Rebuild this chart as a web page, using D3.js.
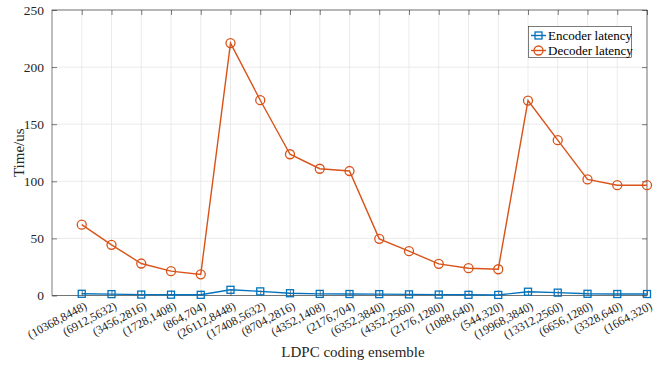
<!DOCTYPE html>
<html>
<head>
<meta charset="utf-8">
<script src="https://cdn.jsdelivr.net/npm/d3@7"></script>
<style>
  body { margin: 0; background: #fff; }
  svg { display: block; }
  svg text { font-family: "Liberation Serif", "Times New Roman", serif !important; }
</style>
</head>
<body>
<svg id="chart" width="668" height="366"></svg>
<script>
// LDPC coding ensembles (n, m)
const categories = [
  "(10368,8448)", "(6912,5632)", "(3456,2816)", "(1728,1408)", "(864,704)",
  "(26112,8448)", "(17408,5632)", "(8704,2816)", "(4352,1408)", "(2176,704)",
  "(6352,3840)", "(4352,2560)", "(2176,1280)", "(1088,640)", "(544,320)",
  "(19968,3840)", "(13312,2560)", "(6656,1280)", "(3328,640)", "(1664,320)"
];
// Latency in microseconds
const encoderLatency = [1.5, 1.2, 0.8, 0.7, 0.6, 5.0, 3.6, 2.0, 1.4, 1.3,
                        1.2, 1.0, 0.8, 0.6, 0.5, 3.3, 2.5, 1.5, 1.3, 1.3];
const decoderLatency = [62, 44.4, 28, 21.3, 18.5, 221, 171, 123.7, 111, 109,
                        49.6, 38.8, 27.7, 23.9, 23, 170.7, 136, 101.6, 96.6, 96.6];
const yTicks = [0, 50, 100, 150, 200, 250];

const seriesList = [
  { name: "Encoder latency", values: encoderLatency, color: "#0072BD", marker: "square" },
  { name: "Decoder latency", values: decoderLatency, color: "#D95319", marker: "circle" }
];

const svg = d3.select("#chart");
const plotL = 52, plotR = 647, plotT = 10, plotB = 295.5;

const x = d3.scaleLinear().domain([0, 20]).range([plotL, plotR]);
const y = d3.scaleLinear().domain([0, 250]).range([plotB, plotT]);

// grid
const grid = svg.append("g").attr("stroke", "#e6e6e6").attr("stroke-width", 0.8);
categories.forEach((c, i) => {
  grid.append("line").attr("x1", x(i + 1)).attr("x2", x(i + 1)).attr("y1", plotT).attr("y2", plotB);
});
yTicks.forEach(t => {
  grid.append("line").attr("x1", plotL).attr("x2", plotR).attr("y1", y(t)).attr("y2", y(t));
});

// box
svg.append("rect").attr("x", plotL).attr("y", plotT).attr("width", plotR - plotL).attr("height", plotB - plotT)
  .attr("fill", "none").attr("stroke", "#262626").attr("stroke-width", 0.6);

// axes
const xAxis = d3.axisBottom(x).tickValues(d3.range(1, 21)).tickSize(-5).tickFormat("");
const gx = svg.append("g").attr("transform", `translate(0,${plotB})`).call(xAxis);
gx.select(".domain").remove();
gx.selectAll(".tick line").attr("stroke", "#262626").attr("stroke-width", 0.6);

const gxTop = svg.append("g").attr("transform", `translate(0,${plotT})`)
  .call(d3.axisTop(x).tickValues(d3.range(1, 21)).tickSize(-5).tickFormat(""));
gxTop.select(".domain").remove();
gxTop.selectAll(".tick line").attr("stroke", "#262626").attr("stroke-width", 0.6);

const yAxis = d3.axisLeft(y).tickValues(yTicks).tickSize(-5).tickPadding(8);
const gy = svg.append("g").attr("transform", `translate(${plotL},0)`).call(yAxis);
gy.select(".domain").remove();
gy.selectAll(".tick line").attr("stroke", "#262626").attr("stroke-width", 0.6);
gy.selectAll(".tick text").attr("font-size", 13.5).attr("fill", "#262626");

const gyR = svg.append("g").attr("transform", `translate(${plotR},0)`)
  .call(d3.axisRight(y).tickValues(yTicks).tickSize(-5).tickFormat(""));
gyR.select(".domain").remove();
gyR.selectAll(".tick line").attr("stroke", "#262626").attr("stroke-width", 0.6);

// rotated category labels
svg.append("g").selectAll("text").data(categories).join("text")
  .attr("transform", (d, i) => `translate(${x(i + 1) + 6},${plotB + 13}) rotate(-28)`)
  .attr("text-anchor", "end")
  .attr("font-size", 12)
  .attr("fill", "#262626")
  .text(d => d);

// axis titles
svg.append("text").attr("x", 353).attr("y", 357).attr("text-anchor", "middle")
  .attr("font-size", 15).attr("fill", "#262626").text("LDPC coding ensemble");
svg.append("text").attr("transform", `translate(24,${(plotT + plotB) / 2}) rotate(-90)`)
  .attr("text-anchor", "middle").attr("font-size", 15).attr("fill", "#262626").text("Time/us");

// series
const line = d3.line().x((d, i) => x(i + 1)).y(d => y(d));
function drawMarker(g, type, cx, cy, color) {
  if (type === "square") {
    g.append("rect").attr("x", cx - 3.5).attr("y", cy - 3.5).attr("width", 7).attr("height", 7)
      .attr("fill", "none").attr("stroke", color).attr("stroke-width", 1.3);
  } else {
    g.append("circle").attr("cx", cx).attr("cy", cy).attr("r", 4.5)
      .attr("fill", "none").attr("stroke", color).attr("stroke-width", 1.3);
  }
}
seriesList.forEach(s => {
  const g = svg.append("g");
  g.append("path").datum(s.values).attr("d", line)
    .attr("fill", "none").attr("stroke", s.color).attr("stroke-width", 1.4);
  s.values.forEach((v, i) => drawMarker(g, s.marker, x(i + 1), y(v), s.color));
});

// legend
const lg = svg.append("g");
lg.append("rect").attr("x", 528.5).attr("y", 26.5).attr("width", 103).attr("height", 31)
  .attr("fill", "#fff").attr("stroke", "#262626").attr("stroke-width", 0.6);
seriesList.forEach((s, i) => {
  const ly = 35.5 + i * 15;
  lg.append("line").attr("x1", 531).attr("x2", 546).attr("y1", ly).attr("y2", ly)
    .attr("stroke", s.color).attr("stroke-width", 1.4);
  drawMarker(lg, s.marker, 538.5, ly, s.color);
  lg.append("text").attr("x", 548).attr("y", ly + 4.5).attr("font-size", 13)
    .attr("fill", "#000").text(s.name);
});
</script>
</body>
</html>
